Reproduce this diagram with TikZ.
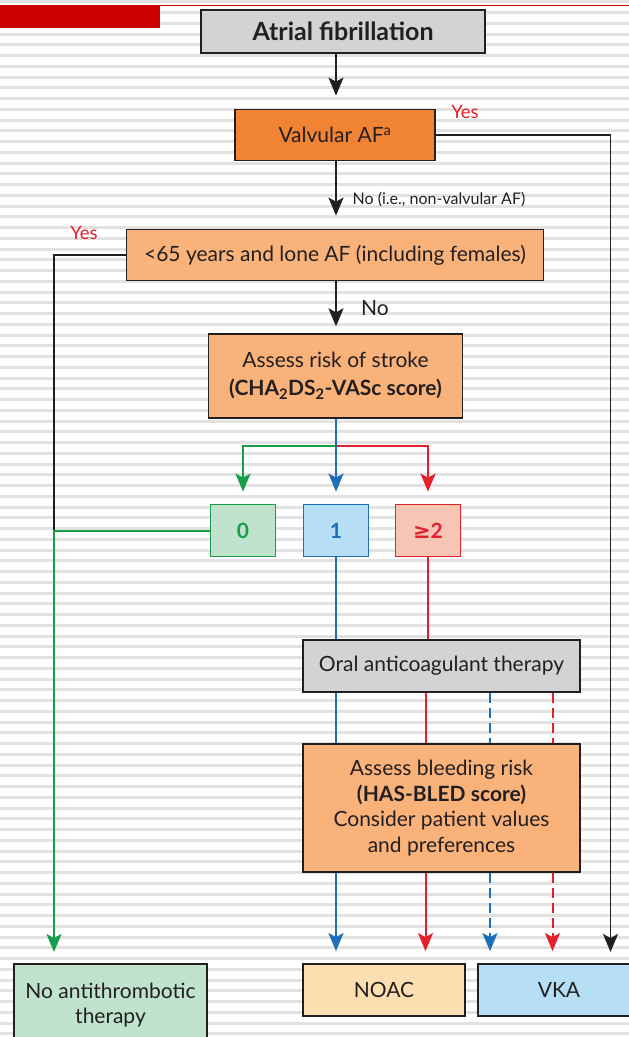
\documentclass[tikz,border=0pt]{standalone}
\usepackage{fontspec}
\setmainfont{Lato}
\newfontfamily\symfont{DejaVu Sans}
\usetikzlibrary{arrows.meta}
\definecolor{afgray}{RGB}{209,211,212}
\definecolor{afdark}{RGB}{241,132,52}
\definecolor{aflight}{RGB}{249,178,122}
\definecolor{afgreen}{RGB}{22,158,74}
\definecolor{afgreenbg}{RGB}{192,227,205}
\definecolor{afblue}{RGB}{28,110,182}
\definecolor{afbluebg}{RGB}{182,222,244}
\definecolor{afred}{RGB}{228,32,42}
\definecolor{afredbg}{RGB}{247,197,180}
\definecolor{afpeach}{RGB}{253,222,176}
\definecolor{afstripe}{RGB}{226,226,226}
\definecolor{afbanner}{RGB}{204,0,0}
\definecolor{afink}{RGB}{35,31,32}
\tikzset{
  fbox/.style={draw=afink, line width=1.8pt, inner sep=2pt, align=center, text=afink,
    font=\fontsize{21}{25.7}\selectfont},
  sc/.style={fbox, minimum width=65pt, minimum height=52pt, font=\fontsize{21}{22}\selectfont\bfseries},
  ylab/.style={text=afred, font=\fontsize{18.5}{20}\selectfont, inner sep=0pt},
  note/.style={text=afink, inner sep=0pt},
  conn/.style={draw=afink, line width=1.9pt},
  ref/.style={-{Stealth[length=18pt, width=15pt, inset=4pt]}},
  glane/.style={draw=afgreen, line width=2pt},
  blane/.style={draw=afblue, line width=2pt},
  rlane/.style={draw=afred, line width=2pt},
  bdash/.style={blane, dash pattern=on 10pt off 5pt},
  rdash/.style={rlane, dash pattern=on 10pt off 5pt},
}

\begin{document}
\begin{tikzpicture}[x=1pt, y=-1pt]
  \useasboundingbox (0,0) rectangle (629,1037);
  \clip (0,0) rectangle (629,1037);
  \foreach \i in {0,...,96}
    \draw[afstripe, line width=3pt] (0,1.95+10.75*\i) -- (629,1.95+10.75*\i);
  \fill[afbanner] (0,4.5) rectangle (160,27.7);
  \draw[afbanner, line width=1.6pt] (160,5.3) -- (629,5.3);

  \node[fbox, fill=afgray, minimum width=284pt, minimum height=43pt,
    font=\fontsize{25}{28}\selectfont\bfseries] (af) at (343,31.5) {Atrial fibrillation};
  \node[fbox, fill=afdark, minimum width=200pt, minimum height=51pt] (valv) at (335,135)
    {Valvular AF\textsuperscript{a}};
  \node[ylab] (yes1) at (465,112) {Yes};
  \node[fbox, fill=aflight, minimum width=417pt, minimum height=51pt] (young) at (335,255)
    {<65 years and lone AF (including females)};
  \node[ylab] (yes2) at (84,233) {Yes};
  \node[fbox, fill=aflight, minimum width=254pt, minimum height=83.5pt,
    font=\fontsize{21}{28}\selectfont] (stroke) at (335.5,376)
    {Assess risk of stroke\\\textbf{(CHA\textsubscript{2}DS\textsubscript{2}-VASc score)}};

  \node[sc, fill=afgreenbg, draw=afgreen, text=afgreen] (s0) at (243,530.5) {0};
  \node[sc, fill=afbluebg, draw=afblue, text=afblue] (s1) at (336,530.5) {1};
  \node[sc, fill=afredbg, draw=afred, text=afred] (s2) at (428,530.5) {{\symfont ≥}2};

  \node[fbox, fill=afgray, minimum width=277pt, minimum height=52pt] (oac) at (441.5,666)
    {Oral anticoagulant therapy};
  \node[fbox, fill=aflight, minimum width=277pt, minimum height=128.7pt] (bleed) at (441.5,808)
    {Assess bleeding risk\\\textbf{(HAS-BLED score)}\\Consider patient values\\and preferences};

  \node[fbox, fill=afgreenbg, minimum width=193pt, minimum height=82pt] (none) at (110.5,1005)
    {No antithrombotic\\therapy};
  \node[fbox, fill=afpeach, minimum width=162.5pt, minimum height=52pt] (noac) at (384,990) {NOAC};
  \node[fbox, fill=afbluebg, minimum width=162pt, minimum height=52pt] (vka) at (559,990) {VKA};

  \coordinate (spine) at (336,0);
  \coordinate (vkain) at (610.5,964);
  \coordinate (join) at (54,530.5);
  \coordinate (nonein) at (54,964);
  \coordinate (fork) at (336,445.5);

  \draw[conn, ref, shorten >=13pt] (spine |- af.south) -- (spine |- valv.north);
  \draw[conn, ref, shorten >=12pt] (valv.east) -| (vkain);
  \draw[conn, ref, shorten >=13pt] (spine |- valv.south) -- (spine |- young.north);
  \node[note, font=\fontsize{16}{18}\selectfont] (no1) at (439,199) {No (i.e., non-valvular AF)};
  \draw[conn] (young.west) -| (join);
  \draw[conn, ref, shorten >=7pt] (spine |- young.south) -- (spine |- stroke.north);
  \node[note, font=\fontsize{21}{22}\selectfont] (no2) at (375,308) {No};

  \draw[glane, ref, shorten >=12pt] (fork) -| (s0.north);
  \draw[rlane, ref, shorten >=12pt] (fork) -| (s2.north);
  \draw[blane, ref, shorten >=12pt] (spine |- stroke.south) -- (s1.north);
  \draw[glane, ref, shorten >=12pt] (s0.west) -| (nonein);

  \draw[blane] (s1.south) -- (s1.south |- oac.north);
  \draw[rlane] (s2.south) -- (s2.south |- oac.north);
  \foreach \x/\ln/\tgt in {336/blane/noac, 425.5/rlane/noac, 490/bdash/vka, 552.5/rdash/vka} {
    \draw[\ln] (\x,0 |- oac.south) -- (\x,0 |- bleed.north);
    \draw[\ln, ref, shorten >=12pt] (\x,0 |- bleed.south) -- (\x,0 |- \tgt.north);
  }
\end{tikzpicture}
\end{document}
